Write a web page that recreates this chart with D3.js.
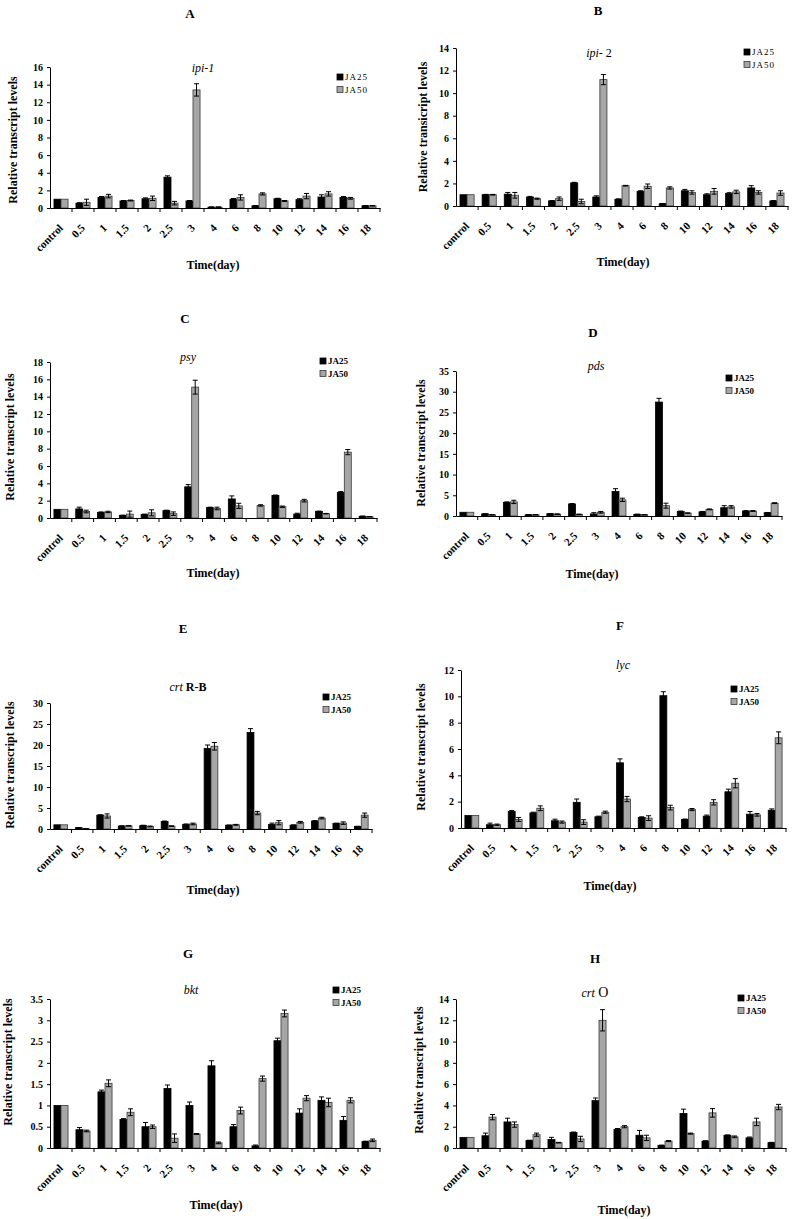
<!DOCTYPE html>
<html><head><meta charset="utf-8">
<script src="https://cdn.jsdelivr.net/npm/d3@7"></script>
<style>body{margin:0;background:#fff}</style>
</head><body>
<script>
const categories = ["control","0.5","1","1.5","2","2.5","3","4","6","8","10","12","14","16","18"];
const seriesNames = ["JA25","JA50"];

// A ipi-1
const ipi1JA25 = [1.0,0.55,1.2,0.8,1.05,3.5,0.8,0.1,1.0,0.25,1.05,0.95,1.25,1.2,0.25];
const ipi1JA25Err = [0,0.05,0.1,0.05,0.1,0.15,0.05,0.02,0.08,0.03,0.05,0.1,0.25,0.1,0.02];
const ipi1JA50 = [1.0,0.65,1.35,0.85,1.1,0.55,13.4,0.1,1.2,1.6,0.8,1.35,1.6,1.1,0.25];
const ipi1JA50Err = [0,0.35,0.2,0.05,0.25,0.2,0.7,0.02,0.3,0.12,0.05,0.3,0.25,0.1,0.02];
const ipi1Ticks = [0,2,4,6,8,10,12,14,16];

// B ipi-2
const ipi2JA25 = [1.0,1.0,1.05,0.8,0.45,2.05,0.8,0.6,1.3,0.2,1.35,1.0,1.1,1.6,0.45];
const ipi2JA25Err = [0,0.03,0.15,0.05,0.03,0.05,0.1,0.03,0.05,0.02,0.12,0.08,0.08,0.2,0.03];
const ipi2JA50 = [1.0,1.0,0.95,0.65,0.65,0.4,11.2,1.8,1.75,1.6,1.2,1.3,1.25,1.2,1.15];
const ipi2JA50Err = [0,0.03,0.25,0.05,0.15,0.2,0.45,0.03,0.2,0.1,0.15,0.25,0.15,0.15,0.2];
const ipi2Ticks = [0,2,4,6,8,10,12,14];

// C psy
const psyJA25 = [1.0,1.05,0.65,0.3,0.4,0.85,3.6,1.2,2.2,0.0,2.6,0.45,0.75,2.95,0.2];
const psyJA25Err = [0,0.2,0.05,0.03,0.05,0.05,0.25,0.05,0.35,0,0.05,0.1,0.05,0.1,0.02];
const psyJA50 = [1.0,0.75,0.7,0.45,0.6,0.5,15.1,1.1,1.4,1.45,1.3,2.0,0.5,7.6,0.15];
const psyJA50Err = [0,0.15,0.08,0.35,0.35,0.2,0.8,0.15,0.3,0.08,0.08,0.15,0.03,0.3,0.02];
const psyTicks = [0,2,4,6,8,10,12,14,16,18];

// D pds
const pdsJA25 = [0.9,0.5,3.3,0.3,0.55,2.9,0.5,5.9,0.4,27.5,1.1,1.0,2.0,1.2,0.8];
const pdsJA25Err = [0,0.05,0.1,0.03,0.05,0.1,0.3,0.7,0.05,0.9,0.1,0.1,0.5,0.1,0.05];
const pdsJA50 = [0.9,0.3,3.4,0.3,0.45,0.4,0.9,3.9,0.3,2.5,0.7,1.6,2.2,1.2,3.1];
const pdsJA50Err = [0,0.03,0.4,0.03,0.05,0.05,0.2,0.4,0.03,0.6,0.05,0.1,0.3,0.1,0.1];
const pdsTicks = [0,5,10,15,20,25,30,35];

// E crt R-B
const crtrbJA25 = [1.0,0.3,3.3,0.7,0.8,1.8,1.1,19.2,0.9,23.0,1.1,0.9,1.9,1.3,0.6];
const crtrbJA25Err = [0,0.05,0.1,0.05,0.1,0.1,0.1,0.8,0.05,0.9,0.3,0.1,0.1,0.1,0.05];
const crtrbJA50 = [1.0,0.1,3.1,0.75,0.6,0.7,1.2,19.7,1.0,3.8,1.5,1.6,2.6,1.4,3.3];
const crtrbJA50Err = [0,0.02,0.5,0.05,0.1,0.05,0.2,0.9,0.1,0.4,0.5,0.2,0.2,0.3,0.5];
const crtrbTicks = [0,5,10,15,20,25,30];

// F lyc
const lycJA25 = [0.95,0.25,1.25,1.15,0.55,1.95,0.85,4.95,0.8,10.05,0.65,0.9,2.75,1.05,1.35];
const lycJA25Err = [0,0.12,0.08,0.05,0.12,0.25,0.05,0.3,0.05,0.3,0.03,0.08,0.2,0.2,0.1];
const lycJA50 = [0.95,0.25,0.65,1.5,0.45,0.45,1.2,2.2,0.75,1.55,1.4,1.95,3.4,1.0,6.85];
const lycJA50Err = [0,0.05,0.15,0.18,0.08,0.18,0.08,0.2,0.18,0.18,0.08,0.2,0.35,0.1,0.45];
const lycTicks = [0,2,4,6,8,10,12];

// G bkt
const bktJA25 = [1.0,0.43,1.32,0.67,0.5,1.4,1.0,1.93,0.5,0.05,2.52,0.82,1.12,0.65,0.15];
const bktJA25Err = [0,0.05,0.04,0.02,0.1,0.08,0.08,0.12,0.05,0.02,0.06,0.1,0.08,0.09,0.01];
const bktJA50 = [1.0,0.4,1.52,0.84,0.5,0.23,0.33,0.12,0.88,1.63,3.16,1.17,1.07,1.12,0.18];
const bktJA50Err = [0,0.02,0.08,0.08,0.04,0.1,0.01,0.02,0.08,0.06,0.08,0.06,0.1,0.06,0.03];
const bktTicks = [0,0.5,1,1.5,2,2.5,3,3.5];

// H crt O
const crtoJA25 = [1.0,1.15,2.45,0.7,0.8,1.45,4.45,1.75,1.2,0.25,3.25,0.65,1.2,0.95,0.5];
const crtoJA25Err = [0,0.25,0.35,0.03,0.2,0.05,0.25,0.08,0.45,0.02,0.4,0.03,0.03,0.08,0.03];
const crtoJA50 = [1.0,2.9,2.2,1.25,0.5,0.85,12.0,2.0,0.95,0.65,1.35,3.3,1.05,2.45,3.85];
const crtoJA50Err = [0,0.25,0.25,0.15,0.03,0.25,1.0,0.1,0.25,0.05,0.05,0.4,0.08,0.35,0.25];
const crtoTicks = [0,2,4,6,8,10,12,14];

const panels = [
 {letter:"A", gene:[{t:"ipi-1",it:true}], v:[ipi1JA25,ipi1JA50], e:[ipi1JA25Err,ipi1JA50Err], ticks:ipi1Ticks,
  L:50,R:380,T:67,B:208, lx:190,ly:13, gx:203,gy:68, legx:337,legy:77, ytx:13,yty:140, xtx:213,xty:265, yTitle:"Relative transcript levels", legBold:false},
 {letter:"B", gene:[{t:"ipi",it:true},{t:"- 2",it:false}], v:[ipi2JA25,ipi2JA50], e:[ipi2JA25Err,ipi2JA50Err], ticks:ipi2Ticks,
  L:456,R:788,T:48,B:206, lx:598,ly:10, gx:599,gy:53, legx:744,legy:52, ytx:423,yty:127, xtx:623,xty:262, yTitle:"Relative transicript levels", legBold:false},
 {letter:"C", gene:[{t:"psy",it:true}], v:[psyJA25,psyJA50], e:[psyJA25Err,psyJA50Err], ticks:psyTicks,
  L:50,R:377,T:362,B:518, lx:185,ly:318, gx:188,gy:357, legx:320,legy:361, ytx:10,yty:437, xtx:213,xty:573, yTitle:"Relative transcript levels", legBold:true},
 {letter:"D", gene:[{t:"pds",it:true}], v:[pdsJA25,pdsJA50], e:[pdsJA25Err,pdsJA50Err], ticks:pdsTicks,
  L:456,R:782,T:371,B:516, lx:593,ly:332, gx:596,gy:366, legx:726,legy:378, ytx:421,yty:443, xtx:592,xty:574, yTitle:"Relative transcript levels", legBold:true},
 {letter:"E", gene:[{t:"crt",it:true},{t:" R-B",it:false,bold:true}], v:[crtrbJA25,crtrbJA50], e:[crtrbJA25Err,crtrbJA50Err], ticks:crtrbTicks,
  L:50,R:372,T:703,B:829, lx:183,ly:628, gx:188,gy:687, legx:323,legy:697, ytx:10,yty:765, xtx:213,xty:890, yTitle:"Relative transcript levels", legBold:true},
 {letter:"F", gene:[{t:"lyc",it:true}], v:[lycJA25,lycJA50], e:[lycJA25Err,lycJA50Err], ticks:lycTicks,
  L:461,R:786,T:670,B:828, lx:620,ly:625, gx:623,gy:665, legx:731,legy:689, ytx:421,yty:747, xtx:610,xty:886, yTitle:"Relative transcript levels", legBold:true},
 {letter:"G", gene:[{t:"bkt",it:true}], v:[bktJA25,bktJA50], e:[bktJA25Err,bktJA50Err], ticks:bktTicks,
  L:50,R:380,T:999,B:1148, lx:188,ly:953, gx:191,gy:990, legx:333,legy:990, ytx:8,yty:1062, xtx:216,xty:1205, yTitle:"Relative transcript levels", legBold:true},
 {letter:"H", gene:[{t:"crt",it:true},{t:" O",it:false,big:true}], v:[crtoJA25,crtoJA50], e:[crtoJA25Err,crtoJA50Err], ticks:crtoTicks,
  L:456,R:786,T:999,B:1148, lx:595,ly:958, gx:595,gy:993, legx:738,legy:998, ytx:419,yty:1070, xtx:624,xty:1210, yTitle:"Realtive transcript levels", legBold:true}
];

const FONT = "'Liberation Serif','Times New Roman',serif";
const fills = ["#000000","#a6a6a6"];
const strokes = ["#000000","#3a3a3a"];

const svg = d3.select("body").append("svg").attr("width",792).attr("height",1219)
  .style("font-family",FONT);
svg.append("rect").attr("width",792).attr("height",1219).attr("fill","#fff");

panels.forEach(p => {
  const g = svg.append("g");
  const x = d3.scaleBand().domain(categories).range([p.L,p.R]).paddingInner(0.36).paddingOuter(0.18);
  const xs = d3.scaleBand().domain(seriesNames).range([0,x.bandwidth()]);
  const y = d3.scaleLinear().domain([0,p.ticks[p.ticks.length-1]]).range([p.B,p.T]);
  const step = x.step();

  // bars
  seriesNames.forEach((s,si) => {
    const rows = categories.map((c,i)=>({c, v:p.v[si][i], e:p.e[si][i]}));
    g.append("g").selectAll("rect").data(rows.filter(d=>d.v>0)).join("rect")
      .attr("x", d=>x(d.c)+xs(s)).attr("y", d=>y(d.v))
      .attr("width", xs.bandwidth()).attr("height", d=>y(0)-y(d.v))
      .attr("fill", fills[si]).attr("stroke", strokes[si]).attr("stroke-width",0.8);
    const eb = g.append("g").attr("stroke","#000").attr("stroke-width",1);
    const withErr = rows.filter(d=>d.e>0);
    const cx = d=>x(d.c)+xs(s)+xs.bandwidth()/2;
    eb.selectAll("line.v").data(withErr).join("line").attr("class","v")
      .attr("x1", cx).attr("x2", cx)
      .attr("y1", d=>y(d.v+d.e)).attr("y2", d=>y(Math.max(0,d.v-d.e)));
    eb.selectAll("line.t").data(withErr).join("line").attr("class","t")
      .attr("x1", d=>cx(d)-2.5).attr("x2", d=>cx(d)+2.5)
      .attr("y1", d=>y(d.v+d.e)).attr("y2", d=>y(d.v+d.e));
    eb.selectAll("line.b").data(withErr).join("line").attr("class","b")
      .attr("x1", d=>cx(d)-2.5).attr("x2", d=>cx(d)+2.5)
      .attr("y1", d=>y(Math.max(0,d.v-d.e))).attr("y2", d=>y(Math.max(0,d.v-d.e)));
  });

  // y axis
  const ya = g.append("g").attr("transform",`translate(${p.L},0)`)
    .call(d3.axisLeft(y).tickValues(p.ticks).tickSize(3).tickSizeOuter(0).tickPadding(4).tickFormat(d=>String(d)));
  ya.select(".domain").attr("stroke","#000").attr("stroke-width",1);
  ya.selectAll("text").attr("font-family",FONT).attr("font-size",10).attr("font-weight","bold").attr("fill","#000");

  // x axis
  const xa = g.append("g").attr("transform",`translate(0,${p.B})`)
    .call(d3.axisBottom(x).tickSize(0).tickSizeOuter(0).tickPadding(0));
  xa.select(".domain").attr("stroke","#000").attr("stroke-width",1);
  xa.selectAll("text").attr("font-family",FONT).attr("font-size",11).attr("font-weight","bold").attr("fill","#000")
    .attr("text-anchor","end").attr("x",0).attr("y",0).attr("dy","0.35em")
    .attr("transform","translate(0,18) rotate(-45)");
  // boundary ticks
  g.append("g").selectAll("line").data(categories).join("line")
    .attr("x1", d=>x(d)+x.bandwidth()+step*x.paddingInner()/2)
    .attr("x2", d=>x(d)+x.bandwidth()+step*x.paddingInner()/2)
    .attr("y1", p.B).attr("y2", p.B+4).attr("stroke","#000").attr("stroke-width",1);

  // panel letter
  g.append("text").attr("x",p.lx).attr("y",p.ly).attr("dy","0.35em").attr("text-anchor","middle")
    .attr("font-size",13).attr("font-weight","bold").text(p.letter);
  // gene title
  const gt = g.append("text").attr("x",p.gx).attr("y",p.gy).attr("dy","0.35em").attr("text-anchor","middle").attr("font-size",12);
  p.gene.forEach(part => {
    gt.append("tspan").text(part.t)
      .attr("font-style", part.it ? "italic" : "normal")
      .attr("font-weight", part.bold ? "bold" : "normal")
      .attr("font-size", part.big ? 14 : 12);
  });
  // legend
  seriesNames.forEach((s,si) => {
    const ly = p.legy + si*12.5;
    g.append("rect").attr("x",p.legx).attr("y",ly-3).attr("width",6).attr("height",6)
      .attr("fill",fills[si]).attr("stroke",strokes[si]).attr("stroke-width",0.8);
    g.append("text").attr("x",p.legx+8).attr("y",ly).attr("dy","0.35em").attr("font-size",9)
      .attr("font-weight", p.legBold ? "bold" : "normal").attr("letter-spacing", p.legBold ? 0 : 1).text(s);
  });
  // y title
  g.append("text").attr("transform",`translate(${p.ytx},${p.yty}) rotate(-90)`).attr("dy","0.35em")
    .attr("text-anchor","middle").attr("font-size",12).attr("font-weight","bold").text(p.yTitle);
  // x title
  g.append("text").attr("x",p.xtx).attr("y",p.xty).attr("dy","0.35em").attr("text-anchor","middle")
    .attr("font-size",12).attr("font-weight","bold").text("Time(day)");
});
</script>
</body></html>
